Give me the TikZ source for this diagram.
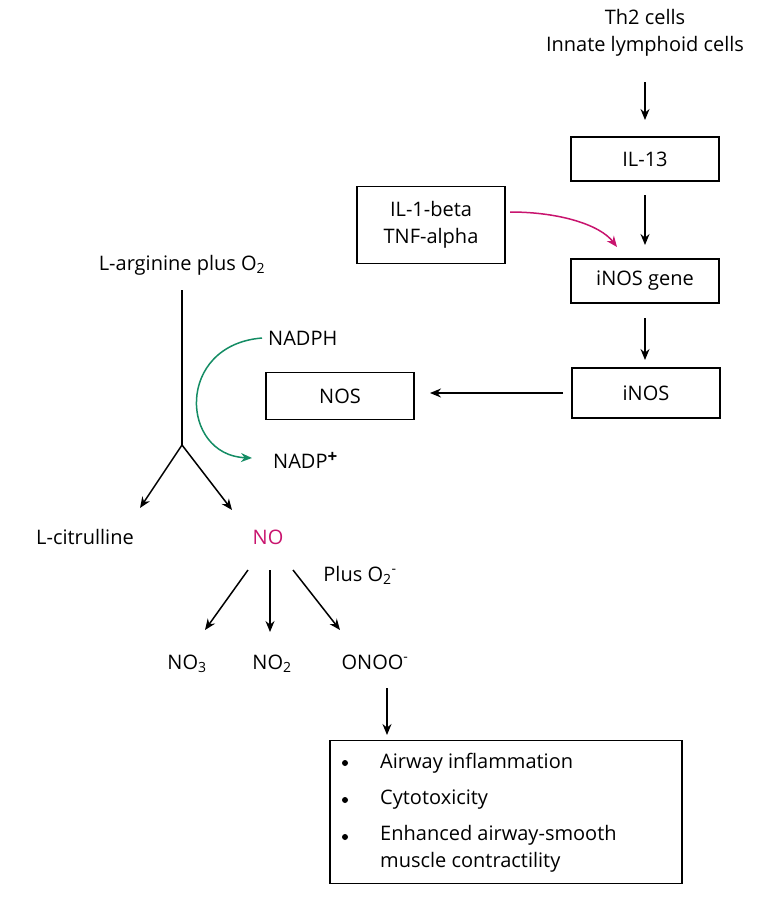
\documentclass[tikz,border=0pt]{standalone}
\usepackage{fontspec}
\setmainfont{Open Sans}
\usetikzlibrary{arrows.meta}
\definecolor{mag}{RGB}{200,20,110}
\definecolor{grn}{RGB}{20,140,100}
\begin{document}
\begin{tikzpicture}[x=1pt,y=-1pt,font=\fontsize{20}{27}\selectfont,
 box/.style={draw,line width=1.5pt,minimum width=148pt,minimum height=44pt,align=center,inner sep=0},
 arr/.style={-{Stealth[length=11pt,width=9pt]},line width=1.5pt},
 lab/.style={align=center,inner sep=0},
 dot/.style={circle,fill,inner sep=0,minimum size=6pt}]
\useasboundingbox (0,0) rectangle (780,899);
\node[lab] (th) at (645,33) {Th2 cells\\Innate lymphoid cells};
\node[box] (il13) at (645,159) {IL-13};
\node[box,minimum height=77pt] (il1) at (431,225) {IL-1-beta\\TNF-alpha};
\node[box] (gene) at (645,281) {iNOS gene};
\node[box,minimum height=50pt] (inos) at (646,393) {iNOS};
\node[box,minimum height=47pt] (nos) at (340,396) {NOS};
\coordinate (t1) at (645,82); \coordinate (t2) at (645,120);
\draw[arr] (t1) -- (t2);
\coordinate (g1) at (645,195); \coordinate (g2) at (645,245);
\draw[arr] (g1) -- (g2);
\coordinate (i1) at (645,318); \coordinate (i2) at (645,360);
\draw[arr] (i1) -- (i2);
\coordinate (m1) at (510,212); \coordinate (m2) at (617,247);
\draw[arr,mag] (m1) .. controls (560,212) and (600,225) .. (m2);
\coordinate (n1) at (563,393); \coordinate (n2) at (430,393);
\draw[arr] (n1) -- (n2);
\node[lab] (arg) at (182,265) {L-arginine plus O\textsubscript{2}};
\coordinate (v1) at (182,290); \coordinate (v2) at (182,445);
\draw[line width=1.5pt] (v1) -- (v2);
\node[lab] (cit) at (85,537) {L-citrulline};
\node[lab,text=mag] (no) at (268,537) {NO};
\coordinate (c1) at (140,508); \coordinate (c2) at (232,510);
\draw[arr] (v2) -- (c1);
\draw[arr] (v2) -- (c2);
\node[lab,anchor=west] (nadph) at (268,338) {NADPH};
\node[lab,anchor=west] (nadp) at (273,460) {NADP\raisebox{6pt}{\fontsize{17}{17}\selectfont\textbf{+}}};
\coordinate (h1) at (262,338); \coordinate (h2) at (252,458);
\draw[arr,grn] (h1) .. controls (175,345) and (180,455) .. (h2);
\node[lab] (plus) at (360,575) {Plus O\textsubscript{2}\textsuperscript{-}};
\node[lab] (no3) at (187,664) {NO\textsubscript{3}};
\node[lab] (no2) at (272,664) {NO\textsubscript{2}};
\node[lab] (onoo) at (375,662) {ONOO\textsuperscript{-}};
\coordinate (a1) at (248,570); \coordinate (a2) at (205,630);
\coordinate (b1) at (270,570); \coordinate (b2) at (270,632);
\coordinate (d1) at (293,570); \coordinate (d2) at (340,630);
\draw[arr] (a1) -- (a2); \draw[arr] (b1) -- (b2); \draw[arr] (d1) -- (d2);
\node[box,minimum width=352pt,minimum height=143pt] (out) at (506,812) {};
\coordinate (o1) at (387,688); \coordinate (o2) at (387,735);
\draw[arr] (o1) -- (o2);
\foreach \y in {763,800,837} \node[dot] at (345,\y) {};
\node[lab,anchor=west] at (380,763) {Airway inflammation};
\node[lab,anchor=west] at (380,800) {Cytotoxicity};
\node[lab,anchor=north west,align=left] at (380,825) {Enhanced airway-smooth\\muscle contractility};
\end{tikzpicture}
\end{document}
